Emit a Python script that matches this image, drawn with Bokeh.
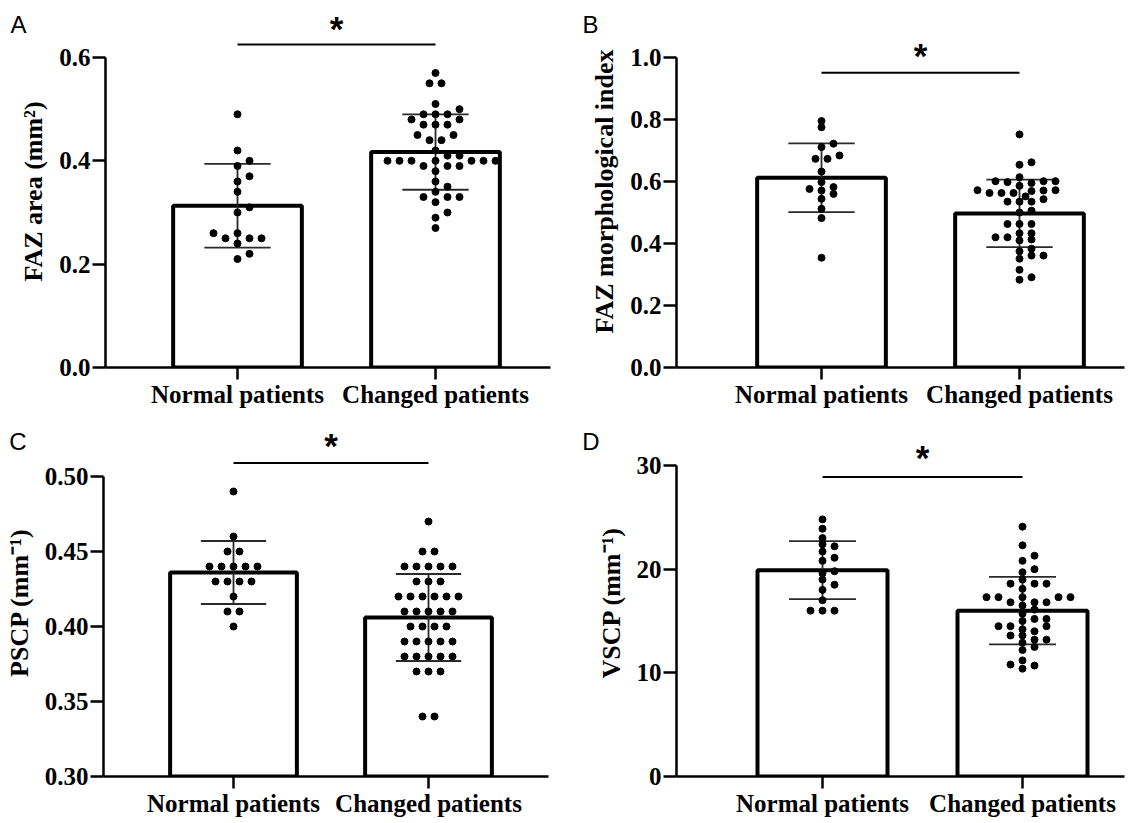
import numpy as np
from bokeh.plotting import figure
from bokeh.layouts import column, row
from bokeh.models import (Label, FixedTicker, Range1d, NumeralTickFormatter, ColumnDataSource,
                          LinearAxis, CustomJSTickFormatter)
from bokeh.embed import file_html
from bokeh.resources import INLINE

categories = ["Normal patients", "Changed patients"]

# Panel A: FAZ area (mm^2)
faz_area_normal = [0.49, 0.42, 0.40, 0.39, 0.37, 0.36, 0.34, 0.31, 0.30, 0.26, 0.26,
                   0.25, 0.25, 0.25, 0.24, 0.22, 0.21]
faz_area_changed = [0.57, 0.55, 0.55, 0.51, 0.50, 0.49, 0.49, 0.49, 0.48, 0.48, 0.47,
                    0.47, 0.47, 0.45, 0.45, 0.44, 0.44, 0.42, 0.41, 0.41, 0.40, 0.40,
                    0.40, 0.40, 0.40, 0.40, 0.40, 0.39, 0.39, 0.39, 0.38, 0.36, 0.35,
                    0.34, 0.33, 0.33, 0.33, 0.32, 0.30, 0.29, 0.27]
faz_area_mean = [0.313, 0.417]
faz_area_sd = [0.081, 0.073]
faz_area_ticks = [0.0, 0.2, 0.4, 0.6]

# Panel B: FAZ morphological index
faz_mi_normal = [0.795, 0.775, 0.722, 0.711, 0.684, 0.673, 0.673, 0.632, 0.598, 0.582,
                 0.576, 0.571, 0.560, 0.544, 0.512, 0.482, 0.354]
faz_mi_changed = [0.752, 0.662, 0.654, 0.614, 0.601, 0.601, 0.601, 0.598, 0.595, 0.586,
                  0.572, 0.572, 0.571, 0.569, 0.563, 0.563, 0.563, 0.552, 0.543, 0.535,
                  0.535, 0.535, 0.506, 0.500, 0.463, 0.463, 0.463, 0.433, 0.433, 0.420,
                  0.420, 0.413, 0.410, 0.383, 0.375, 0.361, 0.361, 0.351, 0.315, 0.291,
                  0.283]
faz_mi_mean = [0.612, 0.497]
faz_mi_sd = [0.111, 0.109]
faz_mi_ticks = [0.0, 0.2, 0.4, 0.6, 0.8, 1.0]

# Panel C: PSCP (mm^-1)
pscp_normal = [0.49, 0.46, 0.45, 0.45, 0.44, 0.44, 0.44, 0.44, 0.44, 0.43, 0.43, 0.43,
               0.43, 0.42, 0.41, 0.41, 0.40]
pscp_changed = [0.47, 0.45, 0.45, 0.44, 0.44, 0.44, 0.44, 0.44, 0.43, 0.43, 0.43, 0.42,
                0.42, 0.42, 0.42, 0.42, 0.42, 0.41, 0.41, 0.41, 0.41, 0.41, 0.40, 0.40,
                0.40, 0.40, 0.39, 0.39, 0.39, 0.39, 0.39, 0.38, 0.38, 0.38, 0.38, 0.38,
                0.37, 0.37, 0.37, 0.34, 0.34]
pscp_mean = [0.436, 0.406]
pscp_sd = [0.021, 0.029]
pscp_ticks = [0.30, 0.35, 0.40, 0.45, 0.50]

# Panel D: VSCP (mm^-1)
vscp_normal = [24.8, 23.9, 23.0, 22.4, 22.2, 21.7, 21.1, 20.8, 19.8, 19.6, 19.0, 18.5,
               18.0, 17.0, 16.0, 16.0, 16.0]
vscp_changed = [24.1, 22.3, 21.3, 20.8, 20.0, 19.7, 19.0, 18.6, 18.6, 18.6, 18.1, 17.3,
                17.3, 17.3, 17.3, 17.3, 16.8, 16.8, 16.8, 16.5, 16.1, 15.7, 15.2, 15.2,
                15.0, 14.5, 14.5, 14.5, 14.2, 14.0, 13.6, 13.6, 13.2, 13.2, 12.9, 12.5,
                12.2, 11.2, 10.8, 10.7, 10.4]
vscp_mean = [19.9, 16.0]
vscp_sd = [2.8, 3.25]
vscp_ticks = [0, 10, 20, 30]

SERIF = "Liberation Serif"
SANS = "Liberation Sans"


def swarm(vals, px_per_y, px_per_x, dx_px=12.0, dy_px=6.0):
    vals = np.asarray(vals, float)
    order = np.argsort(vals, kind="stable")
    groups = []
    for i in order:
        if groups and abs(vals[groups[-1][0]] - vals[i]) < 1e-9:
            groups[-1].append(i)
        else:
            groups.append([i])
    placed = []
    off = np.zeros(len(vals))

    def ok(x, y):
        for (px, py) in placed:
            if ((x - px) / dx_px) ** 2 + ((y - py) / dy_px) ** 2 < 0.999:
                return False
        return True

    steps = [0.0]
    for k in range(1, 40):
        steps += [k * dx_px / 2, -k * dx_px / 2]
    for g in groups:
        y = vals[g[0]] * px_per_y
        n = len(g)
        pattern = [(j - (n - 1) / 2) * dx_px for j in range(n)]
        done = False
        for s in steps[:7]:
            if all(ok(p + s, y) for p in pattern):
                for idx, p in zip(g, pattern):
                    placed.append((p + s, y))
                    off[idx] = (p + s) / px_per_x
                done = True
                break
        if not done:
            for idx in g:
                for s in steps:
                    if ok(s, y):
                        placed.append((s, y))
                        off[idx] = s / px_per_x
                        break
    return off


def panel(letter, ylabel, normal, changed, means, sds, ticks, fmt, ybase, ytop, ybound,
          xstart, xend, px_x, px_y, sig_y, star_y, w, h, bl, br, bt, bb,
          letter_y, letter_standoff):
    p = figure(width=w, height=h, output_backend="svg", toolbar_location=None,
               x_range=Range1d(xstart, xend), y_range=Range1d(ybase, ytop),
               min_border_left=bl, min_border_right=br, min_border_top=bt,
               min_border_bottom=bb)
    p.xgrid.visible = False
    p.ygrid.visible = False
    p.outline_line_color = None
    p.background_fill_color = "white"

    xs = np.array([0.0, 1.0])
    m = np.array(means)
    s = np.array(sds)
    p.vbar(x=xs, top=m, bottom=ybase, width=0.65, fill_color="white",
           line_color="black", line_width=4)
    cw = 0.335
    ecol = "#2a2a2a"
    p.segment(x0=xs, y0=m - s, x1=xs, y1=m + s, line_color=ecol, line_width=1.8)
    p.segment(x0=xs - cw / 2, y0=m + s, x1=xs + cw / 2, y1=m + s, line_color=ecol, line_width=1.8)
    p.segment(x0=xs - cw / 2, y0=m - s, x1=xs + cw / 2, y1=m - s, line_color=ecol, line_width=1.8)

    for ci, vals in enumerate([normal, changed]):
        off = swarm(vals, px_y, px_x)
        src = ColumnDataSource(dict(x=ci + off, y=vals))
        p.scatter("x", "y", source=src, size=7, color="black")

    p.line(x=[0, 1], y=[sig_y, sig_y], line_color="black", line_width=2)
    p.add_layout(Label(x=0.5, y=star_y - 3.0 / px_y, text="*", text_align="center",
                       text_baseline="middle", text_font=SANS, text_font_style="bold",
                       text_font_size="35px", text_color="black"))

    for ax in (p.xaxis, p.yaxis):
        ax.axis_line_width = 2.5
        ax.axis_line_color = "black"
        ax.major_tick_line_width = 2.5
        ax.major_tick_line_color = "black"
        ax.major_tick_in = 0
        ax.minor_tick_line_color = None
        ax.major_label_text_font = SERIF
        ax.major_label_text_font_style = "bold"
        ax.major_label_text_color = "black"
        ax.major_label_text_font_size = "25px"

    p.yaxis.major_tick_out = 13
    p.yaxis.major_label_standoff = 2
    p.yaxis.ticker = FixedTicker(ticks=ticks)
    p.yaxis.formatter = NumeralTickFormatter(format=fmt)
    p.yaxis.bounds = ybound
    p.yaxis.axis_label = ylabel
    p.yaxis.axis_label_text_font = SERIF
    p.yaxis.axis_label_text_font_style = "bold"
    p.yaxis.axis_label_text_font_size = "26px"
    p.yaxis.axis_label_text_color = "black"
    p.yaxis.axis_label_standoff = 8

    p.xaxis.major_tick_out = 12
    p.xaxis.major_label_standoff = 1
    p.xaxis.ticker = FixedTicker(ticks=[0, 1])
    p.xaxis.major_label_overrides = {0: categories[0], 1: categories[1]}

    # panel letter, drawn as the only tick label of an invisible outer axis
    lax = LinearAxis(ticker=FixedTicker(ticks=[letter_y]),
                     formatter=CustomJSTickFormatter(code="return %r;" % letter))
    lax.axis_line_color = None
    lax.major_tick_line_color = None
    lax.minor_tick_line_color = None
    lax.major_tick_out = 0
    lax.major_tick_in = 0
    lax.major_label_standoff = letter_standoff
    lax.major_label_text_font = SANS
    lax.major_label_text_font_size = "24px"
    lax.major_label_text_color = "black"
    lax.major_label_text_align = "right"
    p.add_layout(lax, "left")
    return p


pA = panel("A", "FAZ area (mm²)", faz_area_normal, faz_area_changed, faz_area_mean, faz_area_sd,
           faz_area_ticks, "0.0", 0.0, 352 / 516.7, (0.0, 0.6),
           -132 / 198, 313 / 198, 198, 516.7, 0.625, 0.662,
           573, 420, 105, 23, 15, 53, (367 - 24) / 516.7, -10)
pB = panel("B", "FAZ morphological index", faz_mi_normal, faz_mi_changed, faz_mi_mean, faz_mi_sd,
           faz_mi_ticks, "0.0", 0.0, 352 / 310, (0.0, 1.0),
           -145 / 198, 303 / 198, 198, 310, 0.951, 1.017,
           573, 420, 103, 22, 15, 53, (367 - 24) / 310, -11)
pC = panel("C", "PSCP (mm⁻¹)", pscp_normal, pscp_changed, pscp_mean, pscp_sd,
           pscp_ticks, "0.00", 0.30, 0.30 + 348 / 1500, (0.30, 0.50),
           -130 / 195, 315 / 195, 195, 1500, 0.509, 0.523,
           573, 403, 103, 25, 8, 47, 0.30 + (776 - 441) / 1500, -25)
pD = panel("D", "VSCP (mm⁻¹)", vscp_normal, vscp_changed, vscp_mean, vscp_sd,
           vscp_ticks, "0", 0.0, 348 / 10.367, (0, 30),
           -146 / 200, 302 / 200, 200, 10.367, 28.9, 31.1,
           573, 403, 103, 22, 8, 47, (776 - 441) / 10.367, -6)

layout = column(row(pA, pB), row(pC, pD))
open("out.html", "w").write(file_html(layout, INLINE))
